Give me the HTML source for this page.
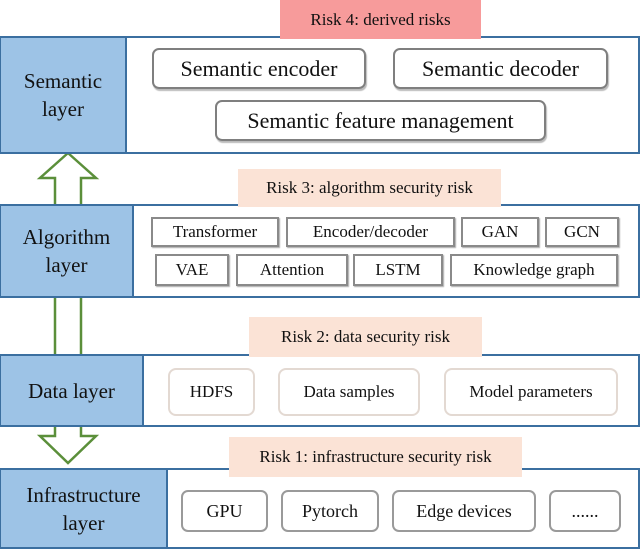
<!DOCTYPE html>
<html><head><style>
body{margin:0;width:640px;height:549px;background:#fff;position:relative;overflow:hidden;font-family:"Liberation Serif",serif;color:#111}
.a{position:absolute;box-sizing:border-box;display:flex;align-items:center;justify-content:center;text-align:center;white-space:nowrap}
.lay{border:2px solid #3b6fa0;background:#fff}
.cell{background:#9dc3e6;border-right:2px solid #3b6fa0;font-size:21px;line-height:28px}
.r{font-size:17px}
.s{border:2px solid #7f7f7f;border-radius:7px;font-size:22px;box-shadow:1px 2px 1px #bbb}
.g{border:2px solid #8a8a8a;font-size:17px;box-shadow:1px 1px 1px #aaa}
.d{border:2px solid #e3d9d2;border-radius:8px;font-size:17px}
.i{border:2px solid #9a9a9a;border-radius:7px;font-size:18px}
</style></head><body>
<svg class="a" style="left:0;top:0;width:640px;height:549px;display:block" width="640" height="549">
<polygon points="68,153 96,178 81,178 81,436 96,436 68,463 40,436 55,436 55,178 40,178" fill="#fff" stroke="#5b8f3a" stroke-width="2.5"/>
</svg>
<div class="a lay" style="left:0;top:36px;width:640px;height:118px"></div>
<div class="a cell" style="left:1px;top:38px;width:126px;height:114px">Semantic<br>layer</div>
<div class="a r" style="left:280px;top:0;width:201px;height:39px;background:#f79b9b">Risk 4: derived risks</div>
<div class="a s" style="left:152px;top:48px;width:214px;height:41px">Semantic encoder</div>
<div class="a s" style="left:393px;top:48px;width:215px;height:41px">Semantic decoder</div>
<div class="a s" style="left:215px;top:100px;width:331px;height:41px">Semantic feature management</div>
<div class="a lay" style="left:0;top:204px;width:640px;height:94px"></div>
<div class="a cell" style="left:1px;top:206px;width:133px;height:90px">Algorithm<br>layer</div>
<div class="a r" style="left:238px;top:169px;width:263px;height:38px;background:#fbe3d6">Risk 3: algorithm security risk</div>
<div class="a g" style="left:151px;top:217px;width:128px;height:30px">Transformer</div>
<div class="a g" style="left:286px;top:217px;width:169px;height:30px">Encoder/decoder</div>
<div class="a g" style="left:461px;top:217px;width:78px;height:30px">GAN</div>
<div class="a g" style="left:545px;top:217px;width:74px;height:30px">GCN</div>
<div class="a g" style="left:155px;top:254px;width:74px;height:32px">VAE</div>
<div class="a g" style="left:236px;top:254px;width:112px;height:32px">Attention</div>
<div class="a g" style="left:353px;top:254px;width:90px;height:32px">LSTM</div>
<div class="a g" style="left:450px;top:254px;width:168px;height:32px">Knowledge graph</div>
<div class="a lay" style="left:0;top:354px;width:640px;height:73px"></div>
<div class="a cell" style="left:1px;top:356px;width:143px;height:69px">Data layer</div>
<div class="a r" style="left:249px;top:317px;width:233px;height:40px;background:#fbe3d6">Risk 2: data security risk</div>
<div class="a d" style="left:168px;top:368px;width:87px;height:48px">HDFS</div>
<div class="a d" style="left:278px;top:368px;width:142px;height:48px">Data samples</div>
<div class="a d" style="left:444px;top:368px;width:174px;height:48px">Model parameters</div>
<div class="a lay" style="left:0;top:468px;width:640px;height:81px"></div>
<div class="a cell" style="left:1px;top:470px;width:167px;height:77px">Infrastructure<br>layer</div>
<div class="a r" style="left:229px;top:437px;width:293px;height:40px;background:#fbe3d6">Risk 1: infrastructure security risk</div>
<div class="a i" style="left:181px;top:490px;width:87px;height:42px">GPU</div>
<div class="a i" style="left:281px;top:490px;width:98px;height:42px">Pytorch</div>
<div class="a i" style="left:392px;top:490px;width:144px;height:42px">Edge devices</div>
<div class="a i" style="left:549px;top:490px;width:72px;height:42px">......</div>
</body></html>
